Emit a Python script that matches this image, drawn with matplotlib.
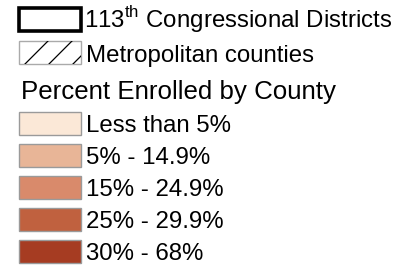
import matplotlib
matplotlib.use("Agg")
import matplotlib.pyplot as plt
from matplotlib.patches import Rectangle

plt.rcParams['font.family'] = ['Liberation Sans', 'DejaVu Sans']
plt.rcParams['mathtext.fontset'] = 'custom'
plt.rcParams['mathtext.rm'] = 'Liberation Sans'

district_label = "113$^{\\mathrm{th}}$ Congressional Districts"
metro_label = "Metropolitan counties"
legend_title = "Percent Enrolled by County"
class_labels = ["Less than 5%", "5% - 14.9%", "15% - 24.9%", "25% - 29.9%", "30% - 68%"]
class_colors = ["#FBE8D7", "#E8B597", "#D98A6B", "#C0613F", "#A63C22"]

W, H = 405, 265
fig = plt.figure(figsize=(W / 100, H / 100), dpi=100)
ax = fig.add_axes([0, 0, 1, 1])
ax.set_xlim(0, W)
ax.set_ylim(H, 0)
ax.axis('off')

fs = 17.3
bx, bw, bh = 19, 62, 23

# district box
ax.add_patch(Rectangle((bx, 8), bw, bh, fill=False, edgecolor='black', linewidth=2.6))
ax.text(84, 27.5, district_label, fontsize=fs, va='baseline', ha='left')

# metro hatched box
r = Rectangle((bx, 41), bw, bh, fill=False, edgecolor='#AAAAAA', linewidth=1)
ax.add_patch(r)
for x0 in [25, 49, 73]:
    ln, = ax.plot([x0, x0 + bh], [41 + bh, 41], color='black', linewidth=0.9)
    ln.set_clip_path(r)
ax.text(86, 62, metro_label, fontsize=fs, va='baseline', ha='left')

ax.text(21, 99.5, legend_title, fontsize=18.6, va='baseline', ha='left')

tops = [112, 144, 176, 208, 240]
for top, lab, col in zip(tops, class_labels, class_colors):
    ax.add_patch(Rectangle((bx, top), bw, bh, facecolor=col, edgecolor='#9A9A9A', linewidth=1))
    ax.text(86, top + 20, lab, fontsize=fs, va='baseline', ha='left')

fig.savefig("out.png", dpi=100)
